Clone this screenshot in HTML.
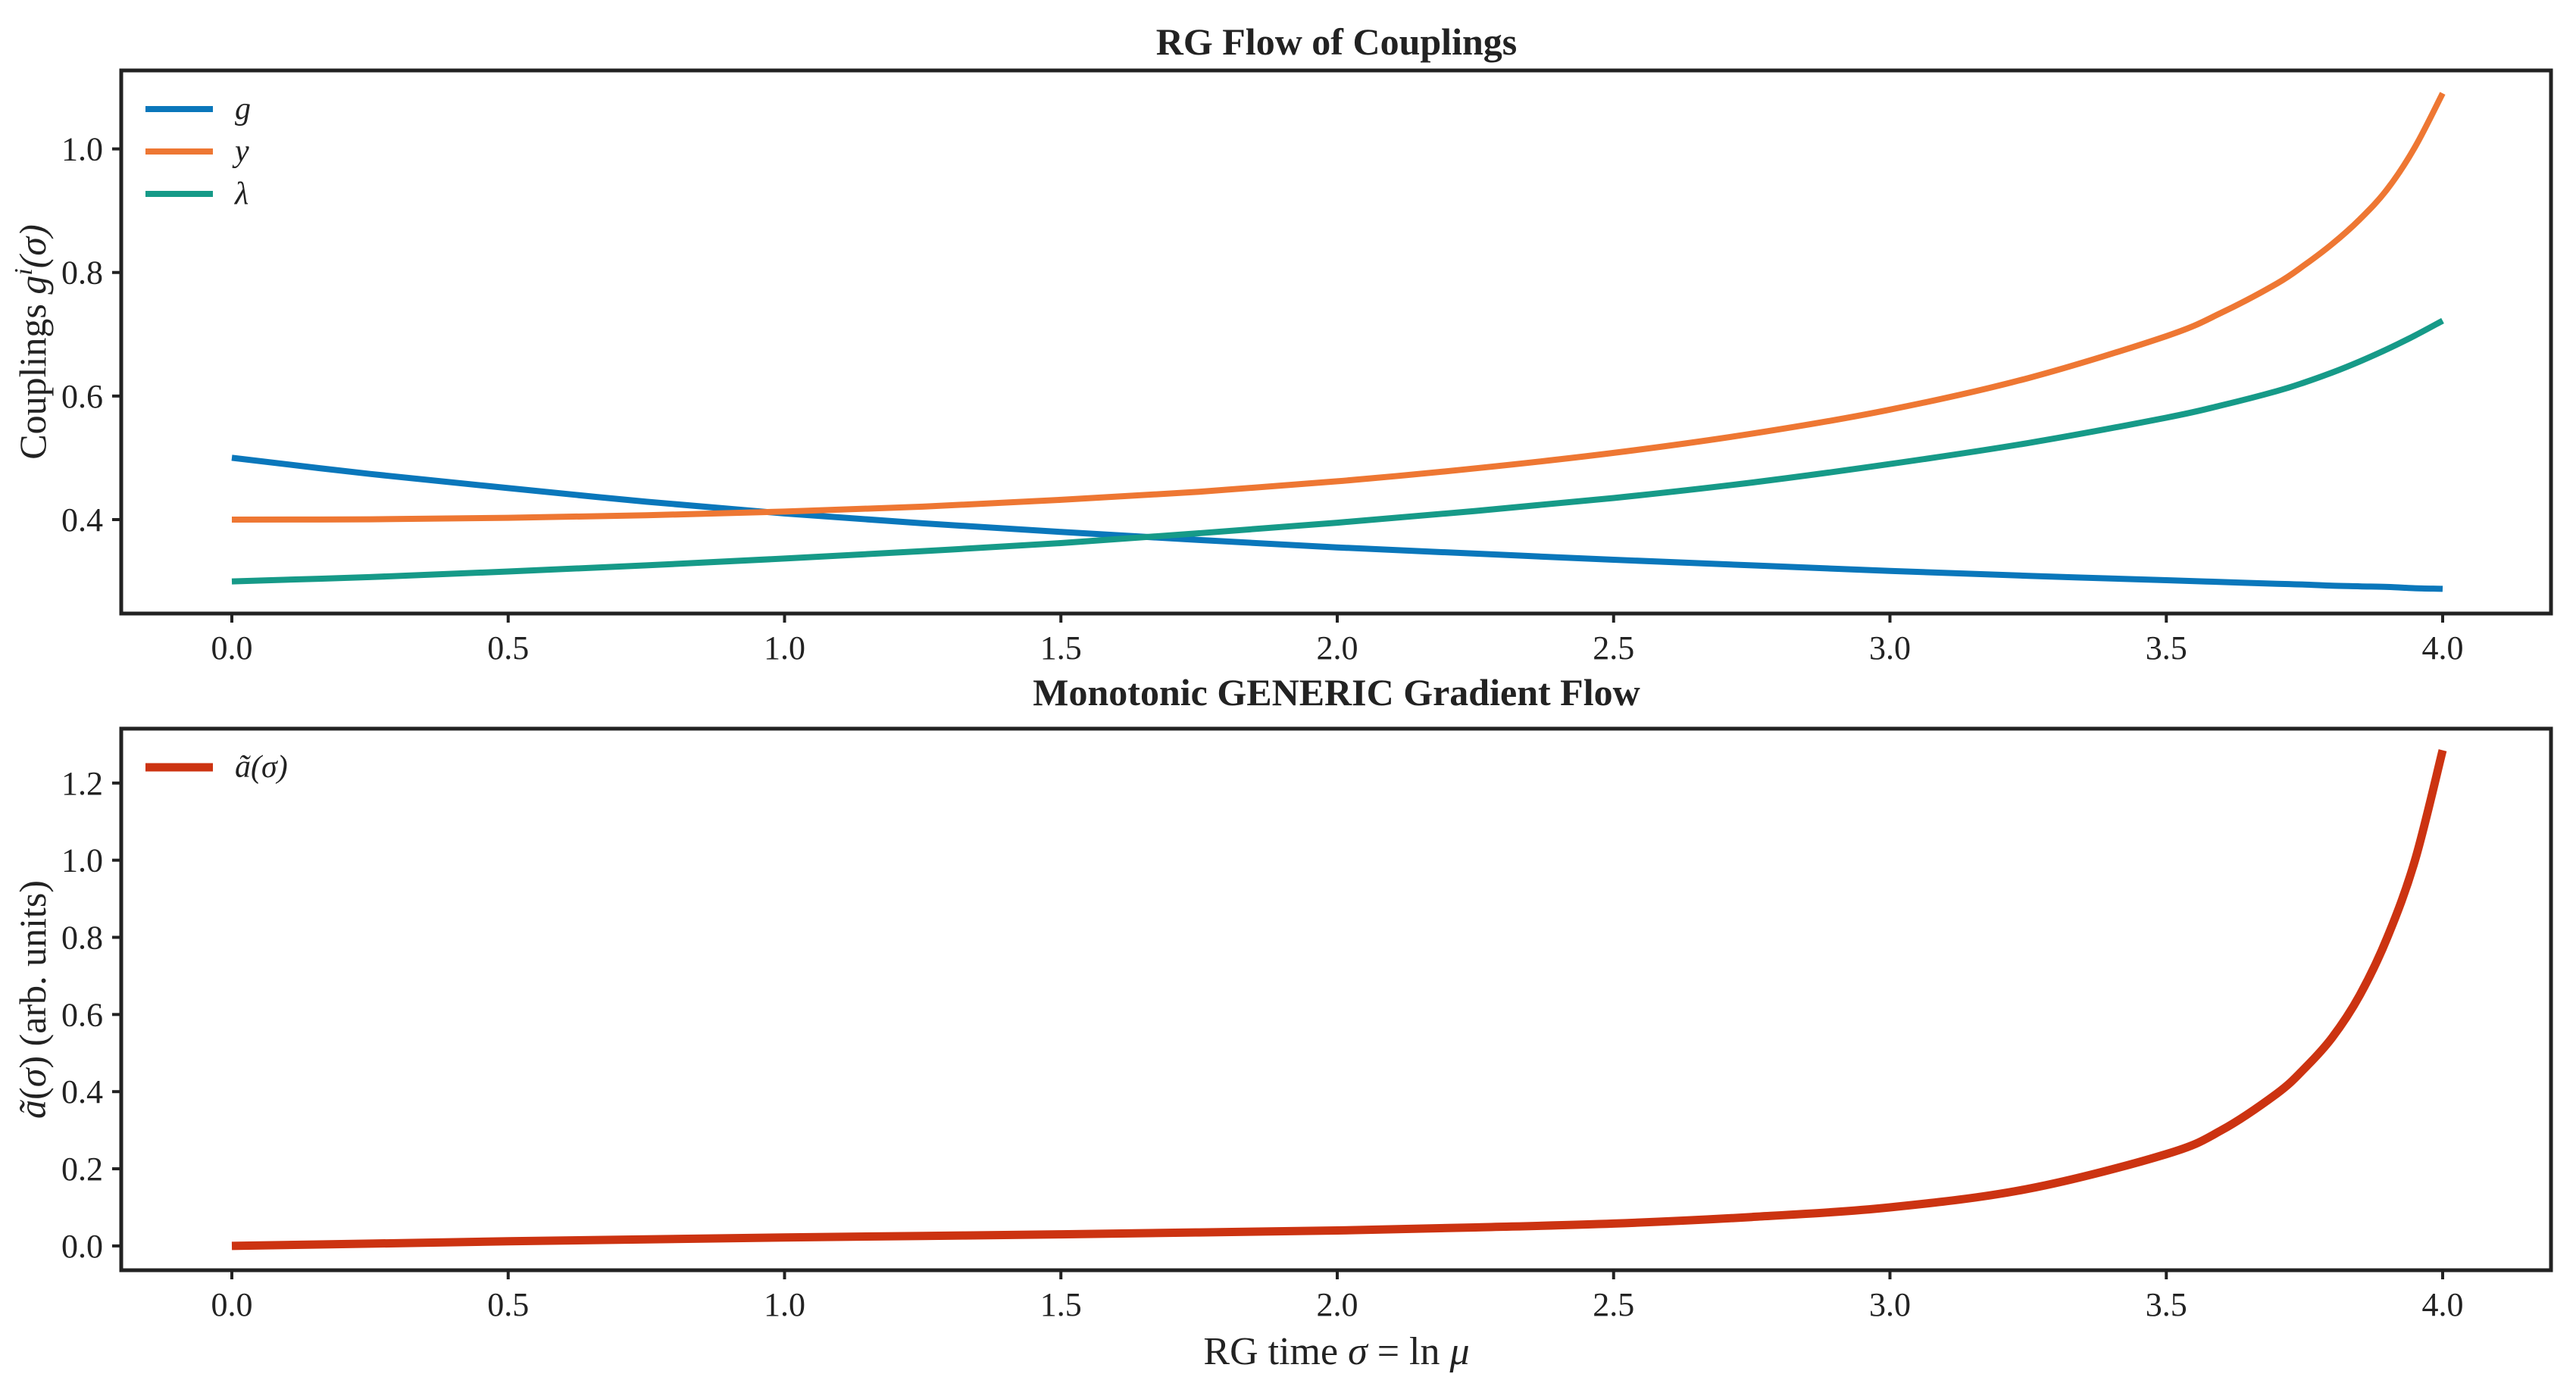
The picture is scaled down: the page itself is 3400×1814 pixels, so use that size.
<!DOCTYPE html>
<html><head><meta charset="utf-8"><style>
html,body{margin:0;padding:0;background:#fff;}
svg{display:block;}
text{font-family:"Liberation Serif",serif;fill:#222;}
</style></head><body>
<svg id="chart" width="3400" height="1814" viewBox="0 0 3400 1814" xmlns="http://www.w3.org/2000/svg">
<g id="top"></g>
<g id="bot"></g>
</svg>
<script>
const sigma = [0,0.25,0.5,0.75,1,1.25,1.5,1.75,2,2.25,2.5,2.75,3,3.25,3.5,3.6,3.7,3.75,3.8,3.85,3.9,3.95,4.0];
const gVals = [0.5,0.474,0.451,0.429,0.41,0.394,0.38,0.367,0.355,0.345,0.335,0.326,0.317,0.309,0.302,0.299,0.296,0.295,0.293,0.292,0.291,0.289,0.288];
const yVals = [0.4,0.4005,0.403,0.407,0.413,0.421,0.432,0.445,0.462,0.483,0.508,0.539,0.578,0.629,0.697,0.735,0.782,0.812,0.846,0.886,0.935,1.003,1.09];
const lamVals = [0.3,0.307,0.316,0.326,0.337,0.349,0.362,0.378,0.395,0.414,0.435,0.46,0.49,0.524,0.565,0.585,0.608,0.622,0.638,0.656,0.676,0.698,0.722];
const aVals = [0,0.006,0.012,0.017,0.022,0.026,0.03,0.035,0.04,0.048,0.058,0.075,0.1,0.148,0.238,0.3,0.395,0.46,0.54,0.65,0.8,1.0,1.285];
const xTicks = [0,0.5,1,1.5,2,2.5,3,3.5,4];
const xTickLabels = ["0.0","0.5","1.0","1.5","2.0","2.5","3.0","3.5","4.0"];
const topYTicks = [0.4,0.6,0.8,1.0];
const topYTickLabels = ["0.4","0.6","0.8","1.0"];
const botYTicks = [0,0.2,0.4,0.6,0.8,1.0,1.2];
const botYTickLabels = ["0.0","0.2","0.4","0.6","0.8","1.0","1.2"];

const NS="http://www.w3.org/2000/svg";
function mk(parent,tag,attrs,txt){const e=document.createElementNS(NS,tag);for(const k in attrs)e.setAttribute(k,attrs[k]);if(txt!==undefined)e.textContent=txt;parent.appendChild(e);return e;}
const L=160,R=3367;
function xs(v){return 306+v*729.5;}
function smoothPath(pts){
  let d='M'+pts[0][0].toFixed(1)+' '+pts[0][1].toFixed(1);
  for(let i=0;i<pts.length-1;i++){
    const p0=pts[Math.max(0,i-1)],p1=pts[i],p2=pts[i+1],p3=pts[Math.min(pts.length-1,i+2)];
    const c1x=p1[0]+(p2[0]-p0[0])/6,c1y=p1[1]+(p2[1]-p0[1])/6;
    const c2x=p2[0]-(p3[0]-p1[0])/6,c2y=p2[1]-(p3[1]-p1[1])/6;
    d+=' C'+c1x.toFixed(1)+' '+c1y.toFixed(1)+' '+c2x.toFixed(1)+' '+c2y.toFixed(1)+' '+p2[0].toFixed(1)+' '+p2[1].toFixed(1);
  }
  return d;
}

function panel(g,top,bottom,y0,y1,yT,yTL,series,title,titleY,ylabel,legend,xlabelY){
  const ys=v=>bottom-(v-y0)/(y1-y0)*(bottom-top);
  series.forEach(s=>{
    const d=smoothPath(sigma.map((x,i)=>[xs(x),ys(s.vals[i])]));
    const p=mk(g,'path',{d:d,fill:'none',stroke:s.color,'stroke-width':s.w,'stroke-linejoin':'round'});
    
    
  });
  const fr=mk(g,'rect',{x:L,y:top,width:R-L,height:bottom-top,fill:'none',stroke:'#222','stroke-width':5});
  
  
  xTicks.forEach((v,i)=>{
    const t=mk(g,'line',{x1:xs(v),x2:xs(v),y1:bottom,y2:bottom+12,stroke:'#222','stroke-width':4});
    
    
    const tl=mk(g,'text',{x:xs(v),y:bottom+60,'font-size':44,'text-anchor':'middle'},xTickLabels[i]);
    
    
  });
  yT.forEach((v,i)=>{
    const t=mk(g,'line',{x1:L-12,x2:L,y1:ys(v),y2:ys(v),stroke:'#222','stroke-width':4});
    
    
    const tl=mk(g,'text',{x:136,y:ys(v)+15,'font-size':44,'text-anchor':'end'},yTL[i]);
    
    
  });
  const tt=mk(g,'text',{x:1764,y:titleY,'font-size':50,'font-weight':'bold','text-anchor':'middle'},title);
  
  
  const cy=(top+bottom)/2;
  const yl=mk(g,'text',{x:0,y:0,'font-size':50,'text-anchor':'middle',transform:'translate(60 '+cy+') rotate(-90)'});
  yl.innerHTML=ylabel;
  
  
  legend.forEach((s,i)=>{
    const ly=s.ly;
    const ln=mk(g,'line',{x1:192,x2:281,y1:ly,y2:ly,stroke:s.color,'stroke-width':s.w});
    
    
    const lt=mk(g,'text',{x:310,y:ly+13,'font-size':42,'font-style':'italic'},s.label);
    
    
  });
  if(xlabelY){
    const xl=mk(g,'text',{x:1764,y:xlabelY,'font-size':52,'text-anchor':'middle'});
    xl.innerHTML='RG time <tspan font-style="italic">σ</tspan> = ln <tspan font-style="italic">μ</tspan>';
    
    
  }
}
const gTop=document.getElementById('top'), gBot=document.getElementById('bot');
const cG='#0a77bb', cY='#ee7733', cL='#169a88', cA='#cc3311';
panel(gTop,93,810,0.248,1.127,topYTicks,topYTickLabels,
 [{name:'g',vals:gVals,color:cG,w:8},{name:'y',vals:yVals,color:cY,w:8},{name:'lambda',vals:lamVals,color:cL,w:8}],
 'RG Flow of Couplings',72,'Couplings <tspan font-style="italic">g<tspan dy="-18" font-size="34">i</tspan><tspan dy="18">(σ)</tspan></tspan>',
 [{label:'g',color:cG,w:8,ly:144},{label:'y',color:cY,w:8,ly:200},{label:'λ',color:cL,w:8,ly:256}],null);
panel(gBot,962,1677,-0.063,1.341,botYTicks,botYTickLabels,
 [{name:'a-tilde',vals:aVals,color:cA,w:11}],
 'Monotonic GENERIC Gradient Flow',931,'<tspan font-style="italic">ã</tspan>(<tspan font-style="italic">σ</tspan>) (arb. units)',
 [{label:'ã(σ)',color:cA,w:11,ly:1013}],1801);
</script>
</body></html>
